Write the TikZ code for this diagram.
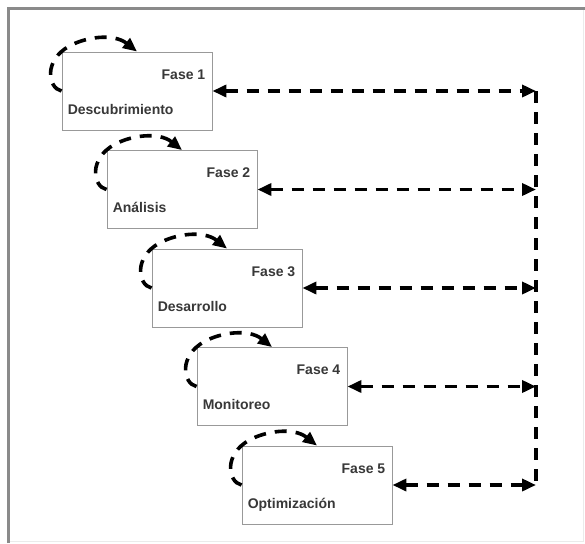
\documentclass[tikz,border=0pt]{standalone}
\usepackage{fontspec}
\setmainfont{Liberation Sans}
\usetikzlibrary{arrows.meta}
\definecolor{txt}{HTML}{383838}
\definecolor{boxc}{HTML}{999999}
\definecolor{frame}{HTML}{8A8A8A}
\tikzset{
  phase/.style={draw=boxc, line width=0.9pt, minimum width=150pt, minimum height=78pt, inner sep=0pt, fill=white},
  lbl/.style={font=\bfseries\fontsize{14}{16}\selectfont, text=txt, inner sep=0pt},
  dsh/.style={line width=3.6pt, dash pattern=on 12pt off 9pt, black},
  tip/.style={-{Triangle[length=14pt,width=12pt]}},
  btip/.style={{Triangle[length=14pt,width=12pt]}-{Triangle[length=14pt,width=12pt]}}
}
\begin{document}
\begin{tikzpicture}[x=1pt,y=-1pt]
\useasboundingbox (0,0) rectangle (585,543);
\fill[white] (0,0) rectangle (585,543);
\draw[draw=black!8, line width=1pt] (8,9) rectangle (583,541);
\draw[frame, line width=3pt] (8,543) -- (8,9) -- (585,9);
\foreach \i/\n/\t in {1/Descubrimiento/Fase 1, 2/Análisis/Fase 2, 3/Desarrollo/Fase 3, 4/Monitoreo/Fase 4, 5/Optimización/Fase 5}{
  \pgfmathsetmacro{\cx}{137+45*(\i-1)}
  \pgfmathsetmacro{\cy}{91+98.5*(\i-1)}
  \node[phase] (b\i) at (\cx,\cy) {};
  \node[lbl, anchor=base east] (f\i) at ([shift={(-7,-12)}]b\i.east) {\t};
  \node[lbl, anchor=base west] (l\i) at ([shift={(6,23)}]b\i.west) {\n};
  \coordinate (v\i) at (536,\cy);
  \draw[dsh, btip] (b\i.east) -- (v\i);
  \draw[dsh, tip] (b\i.west) .. controls ([shift={(-14,-3)}]b\i.west) and ([shift={(-18,-31)}]b\i.west) .. ([shift={(8,-45)}]b\i.west)
     .. controls ([shift={(24,-54)}]b\i.west) and ([shift={(52,-58)}]b\i.west) .. (b\i.north);
}
\draw[dsh] (v1) -- (v5);
\end{tikzpicture}
\end{document}
